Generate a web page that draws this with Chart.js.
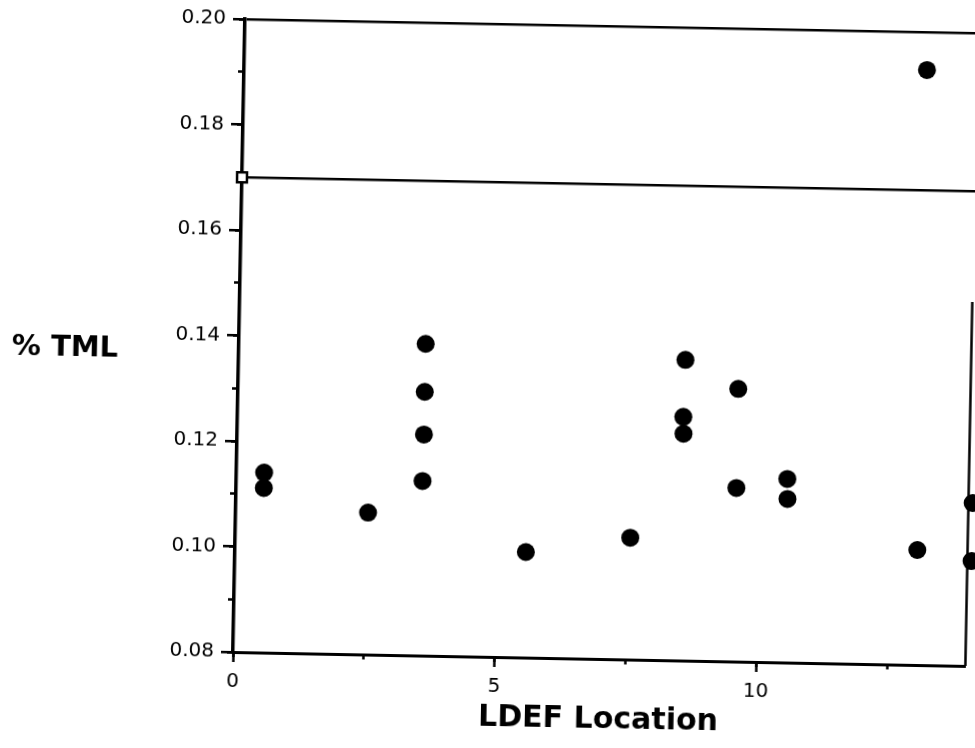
<!DOCTYPE html>
<html>
<head>
<meta charset="utf-8">
<script src="https://cdn.jsdelivr.net/npm/chart.js@4"></script>
<style>
  html, body { margin: 0; padding: 0; background: #fff; overflow: hidden; }
  #wrap { position: absolute; left: 0; top: 0; width: 975px; height: 748px;
          transform: rotate(1.09deg); transform-origin: 233px 652px; }
</style>
</head>
<body>
<div id="wrap"><canvas id="myChart" width="975" height="748"></canvas></div>
<script>
// LDEF location vs % TML
var locX = [0.53, 0.53, 2.53, 3.57, 3.57, 3.57, 3.56, 5.56, 7.55, 8.54,
            8.52, 8.53, 9.56, 9.56, 10.53, 10.54, 13.04, 13.05, 14.08, 14.08];
var tmlY = [0.1141, 0.1112, 0.1069, 0.1391, 0.1300, 0.1219, 0.1131, 0.1000, 0.1031, 0.1370,
            0.1262, 0.1230, 0.1317, 0.1129, 0.1148, 0.1110, 0.1018, 0.1928, 0.1109, 0.0999];

// 0.17 % TML limit line
var limitX = [0, 14.15];
var limitY = [0.17, 0.17];

// right frame, only the lower part survives in the scan
var frameX = [14, 14];
var frameY = [0.08, 0.149];

var xTicks = [0, 5, 10];
var yLabelTitle = "% TML";
var xLabelTitle = "LDEF Location";

function toPoints(xs, ys) {
  return xs.map(function (x, i) {
    return { x: x, y: ys[i] };
  });
}

var sideLabel = {
  id: "sideLabel",
  afterDraw: function (chart) {
    var ctx = chart.ctx;
    ctx.save();
    ctx.fillStyle = "#000";
    ctx.font = "bold 29px 'DejaVu Sans'";
    ctx.textAlign = "left";
    ctx.textBaseline = "middle";
    ctx.fillText(yLabelTitle, 6, chart.scales.y.getPixelForValue(0.137));
    ctx.restore();
  }
};

var tickFont = { family: "DejaVu Sans", size: 20 };

var ctx = document.getElementById("myChart");
var myChart = new Chart(ctx, {
  type: "scatter",
  data: {
    datasets: [{
      data: toPoints(locX, tmlY),
      backgroundColor: "#000",
      borderWidth: 0,
      pointRadius: 9,
      clip: false
    },
    {
      data: toPoints(limitX, limitY),
      showLine: true,
      borderColor: "#000",
      borderWidth: 2.5,
      pointStyle: "rect",
      pointRadius: [7, 0],
      pointBorderWidth: 2.5,
      pointBackgroundColor: "#fff",
      pointBorderColor: "#000",
      clip: false
    },
    {
      data: toPoints(frameX, frameY),
      showLine: true,
      borderColor: "#000",
      borderWidth: 2.5,
      pointRadius: 0,
      clip: false
    }]
  },
  options: {
    responsive: false,
    devicePixelRatio: 1,
    animation: false,
    layout: { padding: { top: 19, right: 8, bottom: 0, left: 0 } },
    plugins: {
      legend: { display: false },
      tooltip: { enabled: false }
    },
    scales: {
      x: {
        type: "linear",
        position: "bottom",
        min: 0,
        max: 14,
        afterFit: function (s) { s.height = 96; },
        ticks: {
          stepSize: 5,
          includeBounds: false,
          color: "#000",
          font: tickFont,
          padding: 8,
          callback: function (v) { return xTicks.indexOf(v) >= 0 ? String(v) : ""; }
        },
        grid: { drawOnChartArea: false, tickLength: 10, tickWidth: 2.5, tickColor: "#000" },
        border: { display: true, color: "#000", width: 3 },
        title: {
          display: true,
          text: xLabelTitle,
          color: "#000",
          font: { family: "DejaVu Sans", size: 30, weight: "bold" },
          padding: { top: 0, bottom: 17 }
        }
      },
      xMinor: {
        type: "linear",
        axis: "x",
        position: { y: 0.08 },
        min: 0,
        max: 14,
        ticks: { display: false, stepSize: 2.5, includeBounds: false },
        grid: { drawOnChartArea: false, tickLength: 5, tickWidth: 2.5, tickColor: "#000" },
        border: { display: false }
      },
      y: {
        type: "linear",
        position: "left",
        min: 0.08,
        max: 0.20,
        afterFit: function (s) { s.width = 233; },
        ticks: {
          stepSize: 0.02,
          color: "#000",
          font: tickFont,
          padding: 7,
          callback: function (v) { return v.toFixed(2); }
        },
        grid: {
          drawOnChartArea: true,
          lineWidth: 2.5,
          color: function (c) {
            return c.tick && Math.abs(c.tick.value - 0.20) < 1e-6 ? "#000" : "rgba(0,0,0,0)";
          },
          tickLength: 12,
          tickWidth: 2.5,
          tickColor: "#000"
        },
        border: { display: true, color: "#000", width: 3.5 }
      },
      yMinor: {
        type: "linear",
        axis: "y",
        position: { x: 0 },
        min: 0.08,
        max: 0.20,
        ticks: { display: false, stepSize: 0.01 },
        grid: { drawOnChartArea: false, tickLength: 6, tickWidth: 2.5, tickColor: "#000" },
        border: { display: false }
      }
    }
  },
  plugins: [sideLabel]
});
</script>
</body>
</html>
